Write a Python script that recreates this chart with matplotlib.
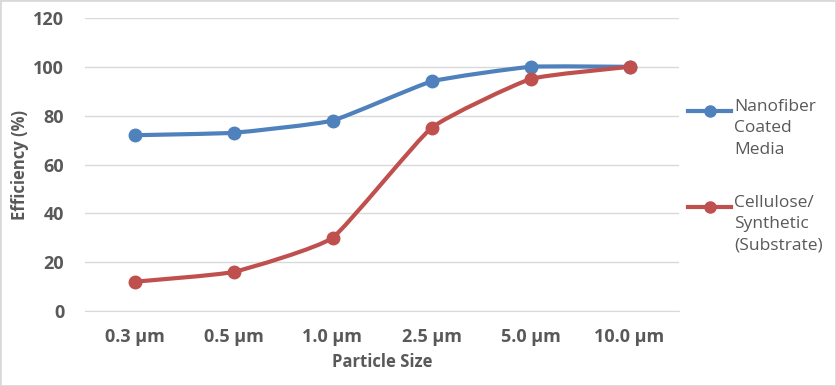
import matplotlib
matplotlib.use("Agg")
import matplotlib.pyplot as plt
from matplotlib.path import Path
from matplotlib.patches import PathPatch, Rectangle
from matplotlib.lines import Line2D
import numpy as np

categories = ["0.3 µm", "0.5 µm", "1.0 µm", "2.5 µm", "5.0 µm", "10.0 µm"]
nanofiber = [72, 73, 78, 94, 100, 100]
cellulose = [12, 16, 30, 75, 95, 100]
series_names = ["Nanofiber\nCoated\nMedia", "Cellulose/\nSynthetic\n(Substrate)"]
yticks = [0, 20, 40, 60, 80, 100, 120]

BLUE = "#4F81BD"
RED = "#C0504D"
TXT = "#595959"

plt.rcParams['font.family'] = ['Open Sans', 'DejaVu Sans']

fig = plt.figure(figsize=(8.36, 3.86), dpi=100)
ax = fig.add_axes([85/836, 1 - 311/386, (679-85)/836, (311-18)/386])

def smooth_path(xs, ys, t=0.07):
    xs = np.asarray(xs, float); ys = np.asarray(ys, float)
    verts = [(xs[0], ys[0])]
    codes = [Path.MOVETO]
    n = len(xs)
    for i in range(n - 1):
        p0 = (xs[max(i-1, 0)], ys[max(i-1, 0)])
        p1 = (xs[i], ys[i]); p2 = (xs[i+1], ys[i+1])
        p3 = (xs[min(i+2, n-1)], ys[min(i+2, n-1)])
        c1 = (p1[0] + (p2[0]-p0[0])*t, p1[1] + (p2[1]-p0[1])*t)
        c2 = (p2[0] - (p3[0]-p1[0])*t, p2[1] - (p3[1]-p1[1])*t)
        verts += [c1, c2, p2]
        codes += [Path.CURVE4]*3
    return Path(verts, codes)

x = np.arange(len(categories))
for vals, col in [(nanofiber, BLUE), (cellulose, RED)]:
    ax.add_patch(PathPatch(smooth_path(x, vals), facecolor='none', edgecolor=col, lw=3, zorder=3, capstyle='round'))
    ax.plot(x, vals, 'o', color=col, ms=9, zorder=4)

ax.set_xlim(-0.5, len(categories) - 0.5)
ax.set_ylim(0, 120)
ax.set_yticks(yticks)
ax.set_xticks(x)
ax.set_xticklabels(categories)
ax.grid(axis='y', color='#D9D9D9', lw=1)
ax.set_axisbelow(True)
for s in ['top', 'right', 'left']:
    ax.spines[s].set_visible(False)
ax.spines['bottom'].set_color('#D9D9D9')
ax.tick_params(length=0, labelsize=13, colors=TXT)
ax.tick_params(axis='y', pad=15)
ax.tick_params(axis='x', pad=12)
for lab in ax.get_xticklabels() + ax.get_yticklabels():
    lab.set_fontweight('bold')
ax.set_ylabel("Efficiency (%)", fontsize=12, fontweight='bold', color=TXT, labelpad=3)
ax.set_xlabel("Particle Size", fontsize=12, fontweight='bold', color=TXT, labelpad=5)

# legend drawn manually
leg_y = [111, 207]
for name, col, yp in zip(series_names, [BLUE, RED], leg_y):
    yf = 1 - yp/386
    fig.add_artist(Line2D([688/836, 731/836], [yf, yf], color=col, lw=3, transform=fig.transFigure))
    fig.add_artist(Line2D([709.5/836], [yf], color=col, marker='o', ms=8, transform=fig.transFigure))
    fig.text(734/836, 1 - (yp - 12)/386, name, fontsize=12.5, color=TXT, va='top', ha='left',
             linespacing=1.45)

fig.patches.append(Rectangle((0, 0), 1, 1, transform=fig.transFigure, fill=False,
                             edgecolor='#D9D9D9', lw=2))
fig.savefig("out.png", dpi=100)
